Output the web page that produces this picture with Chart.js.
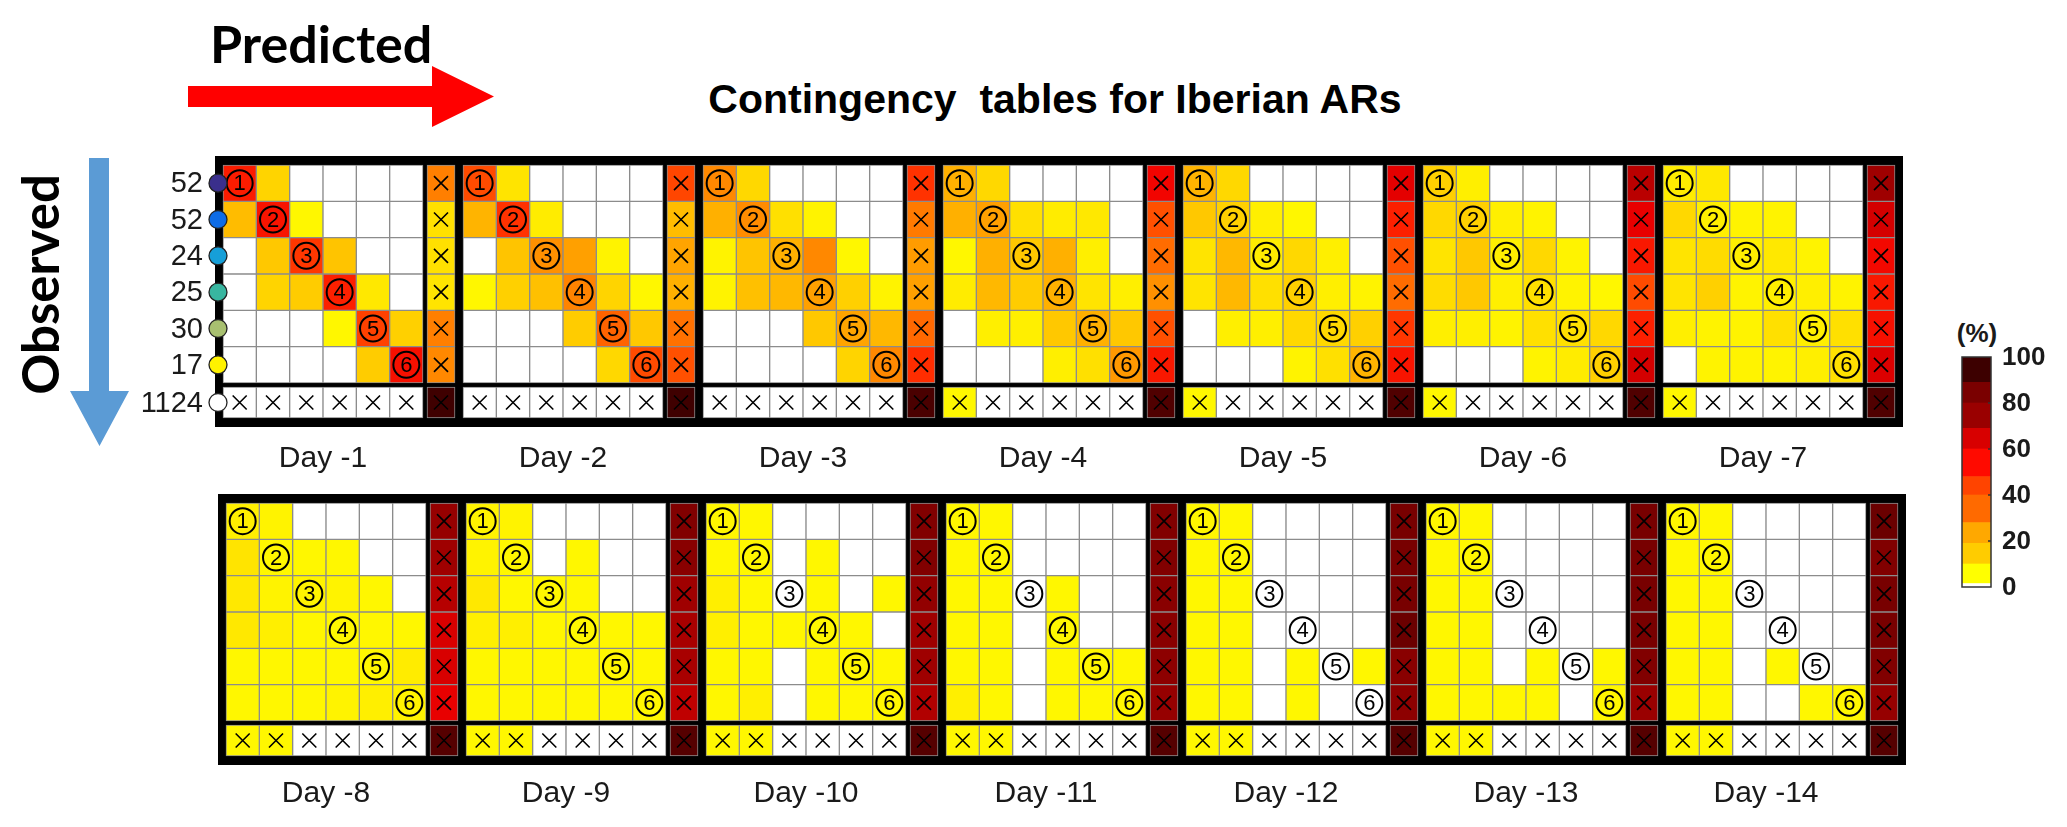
<!DOCTYPE html>
<html>
<head>
<meta charset="utf-8">
<script src="https://cdn.jsdelivr.net/npm/chart.js@4.4.1/dist/chart.umd.min.js"></script>
<style>
  html, body { margin: 0; padding: 0; background: #fff; }
  #page { position: relative; width: 2067px; height: 827px; overflow: hidden; }
  canvas, svg, .txt { position: absolute; }
  .txt { white-space: pre; line-height: 1; color: #000; }
</style>
</head>
<body>
<div id="page">
  <svg width="2067" height="827" style="left:0;top:0">
    <!-- "Predicted" arrow (left to right) -->
    <polygon fill="#ff0000" points="188,86 432,86 432,66 494,96.5 432,127 432,107 188,107"/>
    <!-- "Observed" arrow (top to bottom) -->
    <polygon fill="#5b9bd5" points="89,158 109,158 109,391 129,391 99.5,446 70,391 89,391"/>
  </svg>

  <div class="txt" style="left:210px;top:12px;font:bold 52px Lato;">Predicted</div>
  <div class="txt" style="left:-116px;top:259px;width:300px;height:51px;line-height:51px;text-align:center;
       font:bold 51px Lato;transform:rotate(-90deg);">Observed</div>
  <div class="txt" style="left:655px;top:76px;width:800px;text-align:center;
       font:bold 41px 'Liberation Sans';">Contingency  tables for Iberian ARs</div>
  <div class="txt" style="left:1937px;top:318px;width:80px;text-align:center;
       font:bold 26px 'Liberation Sans';color:#1a1a1a;">(%)</div>

  <canvas id="topRow" width="1820" height="330" style="left:100px;top:150px"></canvas>
  <canvas id="bottomRow" width="1780" height="342" style="left:150px;top:485px"></canvas>
  <canvas id="colorbar" width="117" height="310" style="left:1950px;top:300px"></canvas>
</div>

<script>
// ---------------------------------------------------------------------------
// Data: % of observed ARs of each class (rows) predicted in each class (cols).
// Rows/cols 1-6 are AR categories, the 7th row/col is "no AR".
// ---------------------------------------------------------------------------
const OBSERVED_COUNTS = [52, 52, 24, 25, 30, 17, 1124];
const DAY_LABELS_TOP = ['Day -1', 'Day -2', 'Day -3', 'Day -4', 'Day -5', 'Day -6', 'Day -7'];
const DAY_LABELS_BOTTOM = ['Day -8', 'Day -9', 'Day -10', 'Day -11', 'Day -12', 'Day -13', 'Day -14'];
const COLORBAR_TICKS = [0, 20, 40, 60, 80, 100];
const COLORBAR_EDGES = [0, 1.5, 10, 19, 28, 40, 48, 60, 69, 80, 89, 100];

const DAY_1 = [
    [53, 11, 0, 0, 0, 0, 32],
    [17, 55, 2, 0, 0, 0, 8],
    [0, 14, 47, 15, 0, 0, 8],
    [0, 11, 13, 52, 6, 0, 7],
    [0, 0, 0, 2, 45, 12, 32],
    [0, 0, 0, 0, 13, 56, 30],
    [0, 0, 0, 0, 0, 0, 99]
];
const DAY_2 = [
    [43, 7, 0, 0, 0, 0, 44],
    [19, 48, 5, 0, 0, 0, 17],
    [0, 15, 28, 24, 3, 0, 23],
    [2, 12, 16, 31, 11, 2, 20],
    [0, 0, 0, 13, 38, 14, 35],
    [0, 0, 0, 0, 10, 43, 42],
    [0, 0, 0, 0, 0, 0, 99]
];
const DAY_3 = [
    [30, 10, 0, 0, 0, 0, 48],
    [20, 29, 8, 3, 0, 0, 33],
    [3, 15, 20, 30, 2, 0, 25],
    [3, 16, 18, 24, 12, 3, 24],
    [0, 0, 0, 14, 23, 18, 37],
    [0, 0, 0, 0, 11, 30, 49],
    [0, 0, 0, 0, 0, 0, 97]
];
const DAY_4 = [
    [20, 10, 0, 0, 0, 0, 59],
    [20, 24, 8, 5, 6, 0, 42],
    [2, 20, 14, 20, 4, 0, 36],
    [5, 18, 13, 20, 7, 4, 28],
    [0, 4, 4, 14, 20, 14, 42],
    [0, 0, 0, 4, 8, 26, 54],
    [2, 0, 0, 0, 0, 0, 96]
];
const DAY_5 = [
    [19, 10, 0, 0, 0, 0, 63],
    [14, 12, 4, 2, 0, 0, 52],
    [7, 18, 5, 10, 4, 0, 42],
    [7, 18, 8, 12, 4, 3, 36],
    [0, 4, 4, 10, 10, 12, 47],
    [0, 0, 0, 3, 8, 19, 55],
    [2, 0, 0, 0, 0, 0, 96]
];
const DAY_6 = [
    [12, 4, 0, 0, 0, 0, 73],
    [10, 12, 4, 3, 0, 0, 62],
    [7, 14, 4, 10, 3, 0, 54],
    [9, 14, 4, 8, 3, 2, 43],
    [4, 4, 3, 8, 8, 10, 52],
    [0, 0, 0, 3, 5, 12, 67],
    [2, 0, 0, 0, 0, 0, 96]
];
const DAY_7 = [
    [5, 6, 0, 0, 0, 0, 79],
    [10, 4, 3, 3, 0, 0, 67],
    [7, 9, 4, 6, 3, 0, 58],
    [7, 12, 3, 4, 4, 3, 54],
    [4, 3, 3, 8, 4, 8, 56],
    [0, 3, 3, 3, 4, 8, 65],
    [2, 0, 0, 0, 0, 0, 96]
];
const DAY_8 = [
    [4, 3, 0, 0, 0, 0, 81],
    [7, 2, 2, 2, 0, 0, 79],
    [6, 3, 3, 3, 2, 0, 74],
    [6, 4, 2, 2, 2, 2, 66],
    [2, 2, 2, 2, 2, 5, 66],
    [2, 2, 2, 3, 4, 3, 62],
    [2, 2, 0, 0, 0, 0, 95]
];
const DAY_9 = [
    [3, 3, 0, 0, 0, 0, 86],
    [3, 2, 0, 2, 0, 0, 84],
    [6, 2, 2, 2, 0, 0, 79],
    [4, 4, 2, 2, 2, 2, 77],
    [2, 2, 2, 2, 2, 2, 77],
    [2, 2, 2, 2, 2, 2, 72],
    [2, 2, 0, 0, 0, 0, 95]
];
const DAY_10 = [
    [2, 2, 0, 0, 0, 0, 86],
    [2, 2, 0, 2, 0, 0, 86],
    [4, 2, 0, 2, 0, 2, 82],
    [4, 2, 2, 2, 2, 0, 79],
    [2, 2, 0, 2, 2, 2, 79],
    [2, 4, 0, 2, 2, 2, 75],
    [2, 2, 0, 0, 0, 0, 95]
];
const DAY_11 = [
    [2, 2, 0, 0, 0, 0, 86],
    [2, 2, 0, 0, 0, 0, 86],
    [2, 2, 0, 2, 0, 0, 84],
    [2, 2, 0, 2, 0, 0, 84],
    [2, 2, 0, 2, 2, 2, 83],
    [4, 2, 0, 2, 2, 2, 81],
    [2, 2, 0, 0, 0, 0, 95]
];
const DAY_12 = [
    [2, 2, 0, 0, 0, 0, 88],
    [2, 2, 0, 0, 0, 0, 88],
    [2, 2, 0, 0, 0, 0, 88],
    [2, 2, 0, 0, 0, 0, 91],
    [2, 2, 0, 2, 0, 2, 84],
    [2, 2, 0, 2, 0, 0, 83],
    [2, 2, 0, 0, 0, 0, 95]
];
const DAY_13 = [
    [2, 2, 0, 0, 0, 0, 88],
    [2, 2, 0, 0, 0, 0, 88],
    [2, 2, 0, 0, 0, 0, 88],
    [2, 2, 0, 0, 0, 0, 88],
    [2, 2, 0, 2, 0, 2, 86],
    [2, 2, 2, 2, 0, 2, 80],
    [2, 2, 0, 0, 0, 0, 95]
];
const DAY_14 = [
    [2, 2, 0, 0, 0, 0, 91],
    [2, 2, 0, 0, 0, 0, 86],
    [2, 2, 0, 0, 0, 0, 88],
    [2, 2, 0, 0, 0, 0, 88],
    [2, 2, 0, 2, 0, 0, 86],
    [2, 2, 0, 0, 2, 2, 81],
    [2, 2, 0, 0, 0, 0, 95]
];

const TABLES_TOP = [DAY_1, DAY_2, DAY_3, DAY_4, DAY_5, DAY_6, DAY_7];
const TABLES_BOTTOM = [DAY_8, DAY_9, DAY_10, DAY_11, DAY_12, DAY_13, DAY_14];

// ---------------------------------------------------------------------------
// Styles / layout
// ---------------------------------------------------------------------------
const ROW_DOT_COLORS = ['#3a2f8c', '#0e6ce6', '#169fd8', '#38b6a0', '#a8c070', '#fff200', '#ffffff'];
const COLORBAR_COLORS = ['#ffffff', '#ffff00', '#ffcc00', '#ffa800', '#ff6a00', '#ff4400',
    '#ff0a00', '#d80000', '#9a0000', '#7a0000', '#3d0000'];
const HEAT_STOPS = [
    [0, 255, 255, 0], [10, 255, 216, 0], [20, 255, 176, 0], [30, 255, 136, 0],
    [40, 255, 90, 0], [50, 255, 40, 0], [60, 240, 0, 0], [70, 200, 0, 0],
    [80, 154, 0, 0], [90, 112, 0, 0], [100, 58, 0, 0]
];

// pixel sizes of one table row strip (frame is 1688 x 271 px)
const CELL_W = 1688 / 50.64;   // one x unit
const ROW_H = 218 / 6;         // one y unit
const FRAME_X = 8 / CELL_W;
const GAP_X = 4 / CELL_W;
const NONE_W_PX = 28;
const NONE_W = NONE_W_PX / CELL_W;
const PERIOD = 240 / CELL_W;
const FRAME_Y = 9 / ROW_H;
const GAP_Y = 4 / ROW_H;
const NONE_H = 31 / ROW_H;
const X_MAX = 7 * PERIOD + FRAME_X;
const Y_MAX = 2 * FRAME_Y + 6 + GAP_Y + NONE_H;

function colCenter(k, j) {
    const left = k * PERIOD + FRAME_X;
    return j < 6 ? left + j + 0.5 : left + 6 + GAP_X + NONE_W / 2;
}

function rowRange(i) {
    return i < 6 ? [FRAME_Y + i, FRAME_Y + i + 1]
                 : [FRAME_Y + 6 + GAP_Y, FRAME_Y + 6 + GAP_Y + NONE_H];
}

function rowMid(i) {
    const r = rowRange(i);
    return (r[0] + r[1]) / 2;
}

function heat(v) {
    if (v <= 0) return '#ffffff';
    for (let s = 1; s < HEAT_STOPS.length; s++) {
        const [v1, r1, g1, b1] = HEAT_STOPS[s];
        if (v <= v1) {
            const [v0, r0, g0, b0] = HEAT_STOPS[s - 1];
            const t = (v - v0) / (v1 - v0);
            return `rgb(${Math.round(r0 + t * (r1 - r0))},${Math.round(g0 + t * (g1 - g0))},${Math.round(b0 + t * (b1 - b0))})`;
        }
    }
    return 'rgb(58,0,0)';
}

function buildCells(tables, noneColumn) {
    const points = [];
    tables.forEach((table, k) => {
        table.forEach((row, i) => {
            row.forEach((v, j) => {
                if ((j === 6) !== noneColumn) return;
                points.push({ x: colCenter(k, j), y: rowRange(i), v: v });
            });
        });
    });
    return points;
}

function drawCross(ctx, cx, cy) {
    const h = 7;
    ctx.beginPath();
    ctx.moveTo(cx - h, cy - h);
    ctx.lineTo(cx + h, cy + h);
    ctx.moveTo(cx + h, cy - h);
    ctx.lineTo(cx - h, cy + h);
    ctx.stroke();
}

// black frame behind the cells, circled numbers, crosses and labels
const tableDecor = {
    id: 'tableDecor',
    beforeDatasetsDraw(chart) {
        const { ctx, chartArea: a } = chart;
        ctx.save();
        ctx.fillStyle = '#000';
        ctx.fillRect(a.left, a.top, a.width, a.height);
        ctx.restore();
    },
    afterDatasetsDraw(chart, args, opts) {
        const { ctx, chartArea: a, scales: { x, y } } = chart;
        ctx.save();
        ctx.strokeStyle = '#000';
        ctx.fillStyle = '#000';
        ctx.textAlign = 'center';

        opts.labels.forEach((label, k) => {
            // circled category numbers on the diagonal
            ctx.lineWidth = 2;
            ctx.font = '22px "Liberation Sans"';
            ctx.textBaseline = 'middle';
            for (let i = 0; i < 6; i++) {
                const cx = x.getPixelForValue(colCenter(k, i));
                const cy = y.getPixelForValue(rowMid(i));
                ctx.beginPath();
                ctx.arc(cx, cy, 13, 0, Math.PI * 2);
                ctx.stroke();
                ctx.fillText(String(i + 1), cx, cy + 1);
            }

            // crosses in the "no AR" row and column
            ctx.lineWidth = 1.6;
            for (let j = 0; j < 7; j++) {
                drawCross(ctx, x.getPixelForValue(colCenter(k, j)), y.getPixelForValue(rowMid(6)));
            }
            for (let i = 0; i < 6; i++) {
                drawCross(ctx, x.getPixelForValue(colCenter(k, 6)), y.getPixelForValue(rowMid(i)));
            }

            // day label under the 6 category columns
            ctx.font = '30px "Liberation Sans"';
            ctx.textBaseline = 'alphabetic';
            ctx.fillStyle = '#1a1a1a';
            ctx.fillText(label, x.getPixelForValue(colCenter(k, 0) + 2.5), a.bottom + opts.labelGap);
            ctx.fillStyle = '#000';
        });

        if (opts.rows) {
            ctx.font = '29px "Liberation Sans"';
            ctx.textAlign = 'right';
            ctx.textBaseline = 'middle';
            OBSERVED_COUNTS.forEach((n, i) => {
                const cy = y.getPixelForValue(rowMid(i));
                ctx.fillStyle = '#1a1a1a';
                ctx.fillText(String(n), a.left - 12, cy + 1);
                ctx.beginPath();
                ctx.arc(a.left + 3, cy, 9, 0, Math.PI * 2);
                ctx.fillStyle = ROW_DOT_COLORS[i];
                ctx.fill();
                ctx.lineWidth = 1.3;
                ctx.strokeStyle = '#222';
                ctx.stroke();
            });
        }
        ctx.restore();
    }
};

function makeTableChart(id, tables, labels, padding, rows, labelGap) {
    const cellStyle = {
        backgroundColor: c => heat(c.raw.v),
        borderColor: '#8c8c8c',
        borderWidth: 1,
        borderSkipped: false,
        grouped: false
    };
    return new Chart(document.getElementById(id), {
        type: 'bar',
        data: {
            datasets: [
                Object.assign({ data: buildCells(tables, false), barThickness: CELL_W }, cellStyle),
                Object.assign({ data: buildCells(tables, true), barThickness: NONE_W_PX }, cellStyle)
            ]
        },
        options: {
            responsive: false,
            animation: false,
            layout: { padding: padding },
            scales: {
                x: { type: 'linear', min: 0, max: X_MAX, offset: false, display: false },
                y: { type: 'linear', min: 0, max: Y_MAX, reverse: true, display: false }
            },
            plugins: {
                legend: { display: false },
                tooltip: { enabled: false },
                tableDecor: { labels: labels, rows: rows, labelGap: labelGap }
            }
        },
        plugins: [tableDecor]
    });
}

makeTableChart('topRow', TABLES_TOP, DAY_LABELS_TOP,
    { left: 115, top: 6, right: 17, bottom: 53 }, true, 40);
makeTableChart('bottomRow', TABLES_BOTTOM, DAY_LABELS_BOTTOM,
    { left: 68, top: 9, right: 24, bottom: 62 }, false, 37);

// ---------------------------------------------------------------------------
// Colour bar
// ---------------------------------------------------------------------------
const colorbarDecor = {
    id: 'colorbarDecor',
    afterDatasetsDraw(chart) {
        const { ctx, chartArea: a, scales: { y } } = chart;
        ctx.save();
        ctx.strokeStyle = '#333';
        ctx.lineWidth = 1.5;
        ctx.strokeRect(a.left, a.top, a.width, a.height);
        ctx.fillStyle = '#1a1a1a';
        ctx.font = 'bold 26px "Liberation Sans"';
        ctx.textAlign = 'left';
        ctx.textBaseline = 'middle';
        COLORBAR_TICKS.forEach(v => {
            const py = y.getPixelForValue(v);
            if (v > 0 && v < 100) {
                ctx.beginPath();
                ctx.moveTo(a.right - 3, py);
                ctx.lineTo(a.right, py);
                ctx.stroke();
            }
            ctx.fillText(String(v), a.right + 11, py + 1);
        });
        ctx.restore();
    }
};

new Chart(document.getElementById('colorbar'), {
    type: 'bar',
    data: {
        labels: ['%'],
        datasets: COLORBAR_EDGES.slice(0, -1).map((lo, b) => ({
            data: [[lo, COLORBAR_EDGES[b + 1]]],
            backgroundColor: COLORBAR_COLORS[b],
            borderWidth: 0,
            grouped: false,
            barPercentage: 1,
            categoryPercentage: 1
        }))
    },
    options: {
        responsive: false,
        animation: false,
        layout: { padding: { left: 12, top: 57, right: 76, bottom: 23 } },
        scales: {
            x: { display: false },
            y: { display: false, min: 0, max: 100 }
        },
        plugins: { legend: { display: false }, tooltip: { enabled: false } }
    },
    plugins: [colorbarDecor]
});
</script>
</body>
</html>
